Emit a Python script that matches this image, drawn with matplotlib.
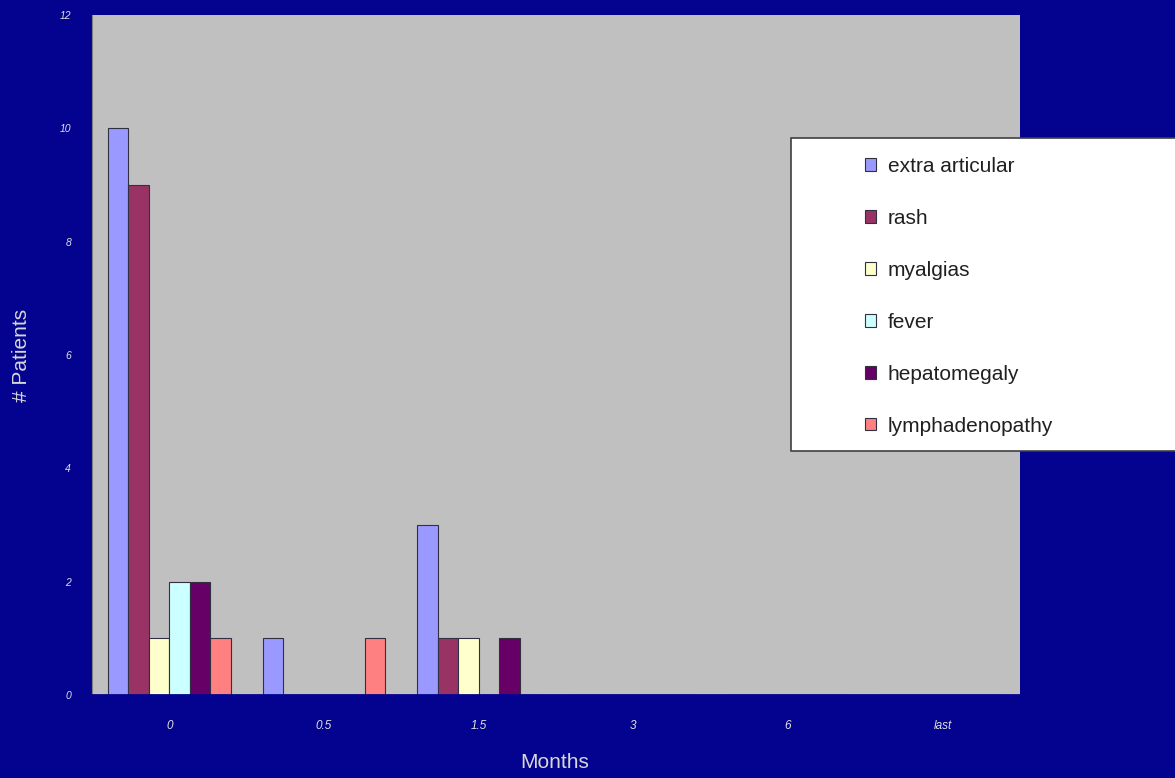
import matplotlib
matplotlib.use("Agg")
import matplotlib.pyplot as plt
import numpy as np
from matplotlib.patches import Rectangle, Patch

plt.rcParams["font.family"] = ["Liberation Sans", "DejaVu Sans"]

categories = ["0", "0.5", "1.5", "3", "6", "last"]
series_names = ["extra articular", "rash", "myalgias", "fever", "hepatomegaly", "lymphadenopathy"]
extra_articular = [10, 1, 3, 0, 0, 0]
rash = [9, 0, 1, 0, 0, 0]
myalgias = [1, 0, 1, 0, 0, 0]
fever = [2, 0, 0, 0, 0, 0]
hepatomegaly = [2, 0, 1, 0, 0, 0]
lymphadenopathy = [1, 1, 0, 0, 0, 0]
series_values = [extra_articular, rash, myalgias, fever, hepatomegaly, lymphadenopathy]
colors = ["#9999FF", "#993366", "#FFFFCC", "#CCFFFF", "#660066", "#FF8080"]
legend_labels = ["extra articular", "rash", "myalgias", "fever", "hepatomegaly", "lymphadenopathy"]

W, H = 1175, 778
fig = plt.figure(figsize=(W / 100, H / 100), dpi=100)
bg = "#03038F"
fig.patch.set_facecolor(bg)

ax = fig.add_axes([92 / W, 1 - 695 / H, (1020 - 92) / W, (695 - 15) / H])
ax.set_facecolor("#C0C0C0")

x = np.arange(len(categories))
bw = 0.1325
n = len(series_values)
for i, (vals, c) in enumerate(zip(series_values, colors)):
    offs = (i - (n - 1) / 2) * bw
    ax.bar(x + offs, vals, width=bw, color=c, edgecolor="#303040", linewidth=0.8)

ax.set_xlim(-0.5, len(categories) - 0.5)
ax.set_ylim(0, 12)
ax.set_yticks([0, 2, 4, 6, 8, 10, 12])
ax.set_yticklabels(["0", "2", "4", "6", "8", "10", "12"], fontsize=7.5, color="#E0E0E0", style="italic")
ax.set_xticks(x)
ax.set_xticklabels(categories, fontsize=8.5, color="#E0E0E0", style="italic")
ax.tick_params(axis="both", length=0)
ax.tick_params(axis="y", pad=15)
ax.tick_params(axis="x", pad=18)
for s in ["top", "right"]:
    ax.spines[s].set_visible(False)
ax.spines["left"].set_color("#808080")
ax.spines["bottom"].set_color(bg)
ax.spines["bottom"].set_linewidth(2)

fig.text(555 / W, 1 - 763 / H, "Months", ha="center", va="center", fontsize=15, color="#D8D8D8")
fig.text(22 / W, 1 - 355 / H, "# Patients", ha="center", va="center", rotation=90, fontsize=15, color="#D8D8D8")

# legend frame
fig.patches.append(Rectangle((791 / W, 1 - 451 / H), (1190 - 791) / W, (451 - 138) / H,
                             transform=fig.transFigure, facecolor="white", edgecolor="#404040",
                             linewidth=1.2, zorder=5))
handles = [Patch(facecolor=c, edgecolor="#303040", linewidth=0.8) for c in colors]
leg = fig.legend(handles, legend_labels, loc="upper left", bbox_to_anchor=(865 / W, 1 - 157 / H),
                 frameon=False, fontsize=15, labelspacing=1.58, handlelength=0.55, handleheight=0.55,
                 handletextpad=0.55, borderaxespad=0, borderpad=0)
leg.set_zorder(6)
for t in leg.get_texts():
    t.set_color("#202020")

fig.savefig("out.png", dpi=100, facecolor=bg)
